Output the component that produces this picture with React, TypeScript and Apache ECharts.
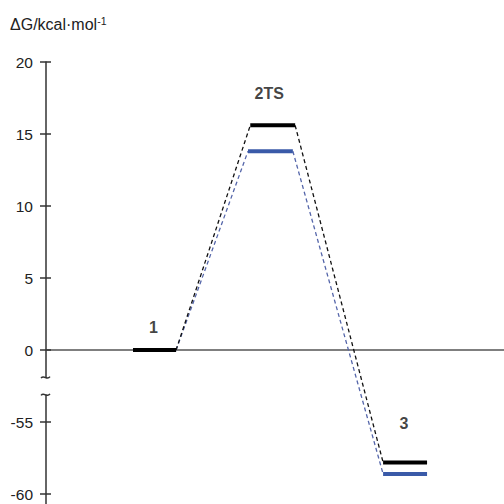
import React, { useEffect, useRef } from "react";
import * as echarts from "echarts";

// ---- data ----
const stateNames = ["1", "2TS", "3"];
const blackEnergy = [0, 15.6, -57.8];
const blueEnergy = [0, 13.8, -58.6];
const blackStart = [1.9, 4.46, 7.36];
const blackEnd = [2.84, 5.44, 8.32];
const blueStart = [1.9, 4.41, 7.36];
const blueEnd = [2.84, 5.39, 8.32];
const yTickValues = [-60, -55, 0, 5, 10, 15, 20];

// broken axis: values below -20 are shifted up to sit just under 0
const BREAK_SHIFT = 50;
const t = (v: number) => (v < -20 ? v + BREAK_SHIFT : v);
const inv = (v: number) => (v < -2 ? v - BREAK_SHIFT : v);

const BLACK = "#000000";
const BLUE = "#3a5aa8";
const BLUE_DASH = "#5566aa";
const FONT = "Liberation Sans, Arial, sans-serif";

function buildSeries() {
  const series: any[] = [];
  const addSet = (
    energy: number[],
    start: number[],
    end: number[],
    solid: string,
    dash: string,
    z: number
  ) => {
    for (let i = 0; i < energy.length - 1; i++) {
      series.push({
        type: "line",
        z,
        symbol: "none",
        silent: true,
        lineStyle: { color: dash, width: 1.3, type: [4, 3] },
        data: [
          [end[i], t(energy[i])],
          [start[i + 1], t(energy[i + 1])],
        ],
      });
    }
    for (let i = 0; i < energy.length; i++) {
      series.push({
        type: "line",
        z: z + 1,
        symbol: "none",
        silent: true,
        lineStyle: { color: solid, width: 4, cap: "butt" },
        data: [
          [start[i], t(energy[i])],
          [end[i], t(energy[i])],
        ],
      });
    }
  };
  addSet(blueEnergy, blueStart, blueEnd, BLUE, BLUE_DASH, 2);
  addSet(blackEnergy, blackStart, blackEnd, BLACK, "#111111", 4);

  const lifts = [23, 31.5, 39];
  const dxs = [-1, -3.5, -1];
  series.push({
    type: "scatter",
    symbolSize: 0,
    silent: true,
    z: 10,
    data: stateNames.map((name, i) => ({
      name,
      value: [(blackStart[i] + blackEnd[i]) / 2, t(blackEnergy[i])],
      label: {
        show: true,
        position: "inside",
        offset: [dxs[i], -lifts[i]],
        formatter: name,
        color: "#111",
        fontWeight: "bold",
        fontSize: 16,
        fontFamily: FONT,
      },
    })),
  });
  return series;
}

export default function App() {
  const ref = useRef<HTMLDivElement>(null);
  useEffect(() => {
    document.body.style.margin = "0";
    if (!ref.current) return;
    const chart = echarts.init(ref.current, null, { renderer: "svg" });
    const tickPositions = yTickValues.map(t);
    const yMin = -10.69;
    const yMax = 20;
    const option: any = {
      animation: false,
      backgroundColor: "#ffffff",
      grid: { left: 46, right: 0, top: 62, bottom: 0, containLabel: false },
      xAxis: {
        type: "value",
        min: 0,
        max: 10,
        axisLine: { show: true, onZero: true, onZeroAxisIndex: 0, lineStyle: { color: "#555", width: 1.5 } },
        axisTick: { show: false },
        axisLabel: { show: false },
        splitLine: { show: false },
      },
      yAxis: [
        {
          type: "value",
          position: "left",
          min: yMin,
          max: yMax,
          axisLine: { show: true, onZero: false, lineStyle: { color: "#333", width: 1.5 } },
          axisTick: {
            show: true,
            inside: false,
            length: 6,
            customValues: tickPositions,
            lineStyle: { color: "#333", width: 1.5 },
          },
          axisLabel: {
            show: true,
            margin: 13,
            customValues: tickPositions,
            formatter: (v: number) => String(Math.round(inv(v))),
            color: "#222",
            fontSize: 15.5,
            fontFamily: FONT,
          },
          splitLine: { show: false },
        },
        {
          type: "value",
          position: "left",
          min: yMin,
          max: yMax,
          axisLine: { show: false, onZero: false },
          axisTick: {
            show: true,
            inside: true,
            length: 5,
            customValues: tickPositions,
            lineStyle: { color: "#333", width: 1.5 },
          },
          axisLabel: { show: false },
          splitLine: { show: false },
        },
      ],
      series: buildSeries(),
    };
    chart.setOption(option);

    const breakTop = -1.88;
    const breakBottom = -3.08;
    const x0 = chart.convertToPixel({ xAxisIndex: 0 }, 0) as number;
    const yA = chart.convertToPixel({ yAxisIndex: 0 }, breakTop) as number;
    const yB = chart.convertToPixel({ yAxisIndex: 0 }, breakBottom) as number;
    const tilde = (y: number) => ({
      type: "bezierCurve",
      silent: true,
      z: 100,
      shape: {
        x1: x0 - 5,
        y1: y + 1,
        cpx1: x0 - 2,
        cpy1: y - 3,
        cpx2: x0 + 1,
        cpy2: y + 4,
        x2: x0 + 4,
        y2: y - 0.5,
      },
      style: { stroke: "#333", lineWidth: 1.4, fill: null },
    });
    chart.setOption({
      graphic: [
        {
          type: "rect",
          silent: true,
          z: 99,
          shape: { x: x0 - 4, y: yA, width: 8, height: yB - yA },
          style: { fill: "#ffffff" },
        },
        tilde(yA),
        tilde(yB),
        {
          type: "text",
          silent: true,
          left: 10,
          top: 15,
          style: {
            text: "ΔG/kcal·mol{sup|-1}",
            fill: "#222",
            fontSize: 16,
            fontFamily: FONT,
            rich: {
              sup: { fontSize: 10.5, fill: "#222", fontFamily: FONT, padding: [0, 0, 8, 0] },
            },
          },
        },
      ],
    });
    return () => chart.dispose();
  }, []);
  return <div ref={ref} style={{ width: 504, height: 504 }} />;
}
